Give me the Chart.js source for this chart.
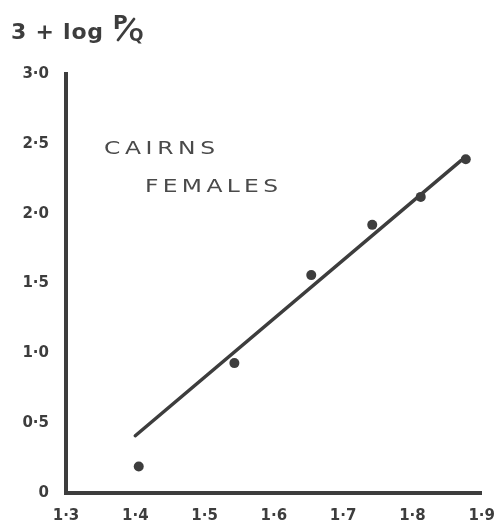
<!DOCTYPE html>
<html>
<head>
<meta charset="utf-8">
<script src="https://cdn.jsdelivr.net/npm/chart.js@4/dist/chart.umd.min.js"></script>
<style>
  html, body { margin: 0; padding: 0; background: #ffffff; }
  #wrap { width: 501px; height: 527px; }
</style>
</head>
<body>
<div id="wrap"><canvas id="c" width="501" height="527"></canvas></div>
<script>
// Tick positions and their printed labels
const xTickValues = [1.3, 1.4, 1.5, 1.6, 1.7, 1.8, 1.9];
const xTickLabels = ['1·3', '1·4', '1·5', '1·6', '1·7', '1·8', '1·9'];
const yTickValues = [0, 0.5, 1.0, 1.5, 2.0, 2.5, 3.0];
const yTickLabels = ['0', '0·5', '1·0', '1·5', '2·0', '2·5', '3·0'];

// Observed points
const obsX = [1.405, 1.543, 1.654, 1.742, 1.812, 1.877];
const obsY = [0.19, 0.93, 1.56, 1.92, 2.12, 2.39];

// Fitted straight line (end points)
const fitX = [1.40, 1.87];
const fitY = [0.41, 2.38];

// Annotation text
const yAxisTitle = ['3 + log', 'P', 'Q'];
const groupLabel = ['CAIRNS', 'FEMALES'];

const INK = '#3d3d3d';
const TICK_FONT = { family: 'DejaVu Sans', size: 15, weight: 'bold' };

// Draws text letter by letter, stretched horizontally, spread over a given width
function spacedText(ctx, text, x, y, width, stretch) {
  const widths = [...text].map(ch => ctx.measureText(ch).width * stretch);
  const total = widths.reduce((a, b) => a + b, 0);
  const gap = (width - total) / (text.length - 1);
  let cx = x;
  [...text].forEach((ch, i) => {
    ctx.save();
    ctx.translate(cx, y);
    ctx.scale(stretch, 1);
    ctx.fillText(ch, 0, 0);
    ctx.restore();
    cx += widths[i] + gap;
  });
}

const textPlugin = {
  id: 'chartText',
  afterDraw(chart) {
    const ctx = chart.ctx;
    ctx.save();
    ctx.fillStyle = INK;
    ctx.strokeStyle = INK;
    ctx.textBaseline = 'alphabetic';
    ctx.textAlign = 'left';

    // y quantity: 3 + log P/Q
    ctx.font = 'bold 22px "DejaVu Sans"';
    spacedText(ctx, yAxisTitle[0], 11, 39, 92, 1.0);
    ctx.font = 'bold 20px "DejaVu Sans"';
    ctx.fillText(yAxisTitle[1], 113, 29);
    ctx.lineWidth = 2.8;
    ctx.lineCap = 'round';
    ctx.beginPath();
    ctx.moveTo(118, 40);
    ctx.lineTo(134, 19);
    ctx.stroke();
    ctx.font = 'bold 17px "DejaVu Sans"';
    ctx.fillText(yAxisTitle[2], 129, 41);

    // group label
    ctx.fillStyle = '#4a4a4a';
    ctx.font = '18px "DejaVu Sans"';
    spacedText(ctx, groupLabel[0], 104, 154, 111, 1.3);
    spacedText(ctx, groupLabel[1], 145, 192, 133, 1.3);
    ctx.restore();
  }
};

new Chart(document.getElementById('c'), {
  type: 'scatter',
  data: {
    datasets: [
      {
        label: 'fit',
        data: fitX.map((x, i) => ({ x, y: fitY[i] })),
        showLine: true,
        borderColor: INK,
        borderWidth: 3.5,
        borderCapStyle: 'round',
        pointRadius: 0,
        pointHoverRadius: 0
      },
      {
        label: 'observed',
        data: obsX.map((x, i) => ({ x, y: obsY[i] })),
        showLine: false,
        pointRadius: 5,
        pointBackgroundColor: INK,
        pointBorderColor: INK,
        pointBorderWidth: 0
      }
    ]
  },
  options: {
    responsive: false,
    animation: false,
    events: [],
    layout: { padding: { top: 74, right: 13, left: 0, bottom: 0 } },
    plugins: {
      legend: { display: false },
      tooltip: { enabled: false }
    },
    scales: {
      x: {
        type: 'linear',
        min: 1.3,
        max: 1.9,
        afterBuildTicks: s => { s.ticks = xTickValues.map(v => ({ value: v })); },
        afterFit: s => { s.height = 527 - 493; },
        grid: { display: false },
        border: { display: true, color: INK, width: 4 },
        ticks: {
          color: INK,
          font: TICK_FONT,
          padding: 6,
          maxRotation: 0,
          callback: (v, i) => xTickLabels[i]
        }
      },
      y: {
        type: 'linear',
        min: 0,
        max: 3,
        afterBuildTicks: s => { s.ticks = yTickValues.map(v => ({ value: v })); },
        afterFit: s => { s.width = 66; },
        grid: { display: false },
        border: { display: true, color: INK, width: 4 },
        ticks: {
          color: INK,
          font: TICK_FONT,
          padding: 9,
          callback: (v, i) => yTickLabels[i]
        }
      }
    }
  },
  plugins: [textPlugin]
});
</script>
</body>
</html>
